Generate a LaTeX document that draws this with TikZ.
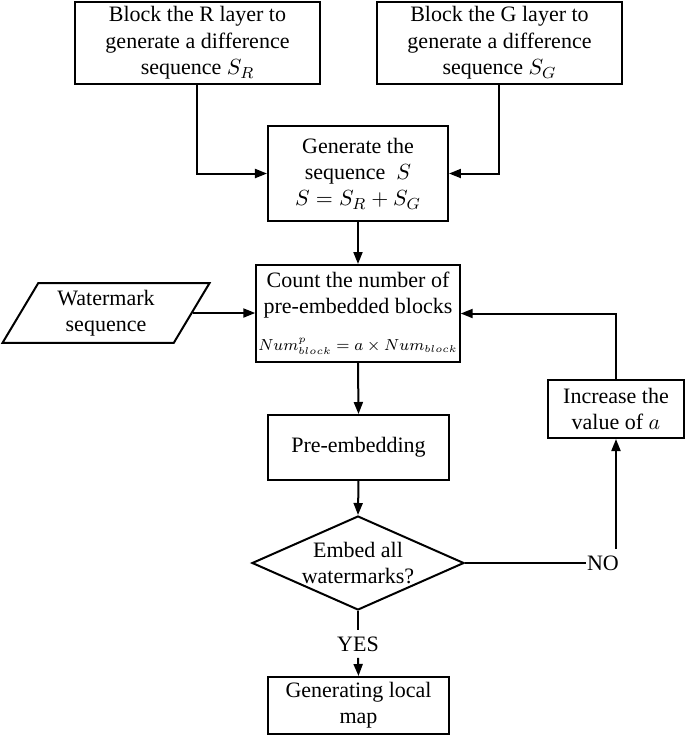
\documentclass[tikz,border=0pt]{standalone}
\usepackage{fontspec}
\setmainfont{Liberation Serif}
\usetikzlibrary{arrows.meta,shapes.geometric}

\begin{document}
\begin{tikzpicture}[x=0.5pt,y=-0.5pt,
  every node/.style={font=\fontsize{11}{13.2}\selectfont},
  blockbox/.style={draw, line width=1pt, align=center, inner sep=2pt},
  decision/.style={draw, diamond, line width=1pt, inner sep=0pt, minimum width=106pt, minimum height=47pt},
  datain/.style={draw, trapezium, trapezium left angle=64, trapezium right angle=116, trapezium stretches=true, line width=1pt, align=center, minimum width=104pt, minimum height=29pt},
  arr/.style={-{Triangle[length=6pt,width=4.5pt]}, line width=1pt},
  link/.style={line width=1pt}]
\useasboundingbox (0,0) rectangle (685,736);
\node[blockbox, minimum width=122.5pt, minimum height=41pt] (blkR) at (197.5,43) {Block the R layer to\\generate a difference\\sequence $S_R$};
\node[blockbox, minimum width=122.5pt, minimum height=41pt] (blkG) at (499.5,43) {Block the G layer to\\generate a difference\\sequence $S_G$};
\node[blockbox, minimum width=90pt, minimum height=47.5pt] (genS) at (358,173.5) {Generate the\\sequence\ \ $S$\\$S=S_R+S_G$};
\node[blockbox, inner xsep=1pt, inner ysep=1pt, minimum width=100pt, minimum height=48.5pt] (count) at (358,313.5) {Count the number of\\pre-embedded blocks\\[5pt]{\fontsize{7.8}{10}\selectfont$Num_{block}^{p}=a\times Num_{block}$}};
\node[datain] (wm) at (106,313) {Watermark\\sequence};
\node[blockbox, minimum width=68pt, minimum height=29pt] (inc) at (616,409) {Increase the\\value of $a$};
\node[blockbox, minimum width=90.5pt, minimum height=32.5pt] (pre) at (358.5,447.5) {Pre-embedding};
\node[decision, label={[align=center]center:Embed all\\watermarks?}] (dia) at (358,563) {};
\node[inner xsep=0.5pt, inner ysep=3pt] (no) at (603,563) {NO};
\node[inner sep=3pt] (yes) at (358,644) {YES};
\node[blockbox, minimum width=90.5pt, minimum height=28.5pt] (gen) at (358.5,705.5) {Generating local\\map};
\draw[arr] (blkR.south) |- (genS.west);
\draw[arr] (blkG.south) |- (genS.east);
\draw[arr] (genS.south) -- (count.north);
\draw[arr] (wm.east) -- (wm.east -| count.west);
\draw[arr] (inc.north) |- (count.east);
\draw[arr] (count.south) -- (pre.north);
\draw[arr] (pre.south) -- (dia.north);
\draw[link] (dia.east) -- (no.west);
\draw[arr] (no.north -| inc.south) -- (inc.south);
\draw[link] (dia.south) -- (yes.north);
\draw[arr] (yes.south) -- (gen.north);
\end{tikzpicture}
\end{document}
